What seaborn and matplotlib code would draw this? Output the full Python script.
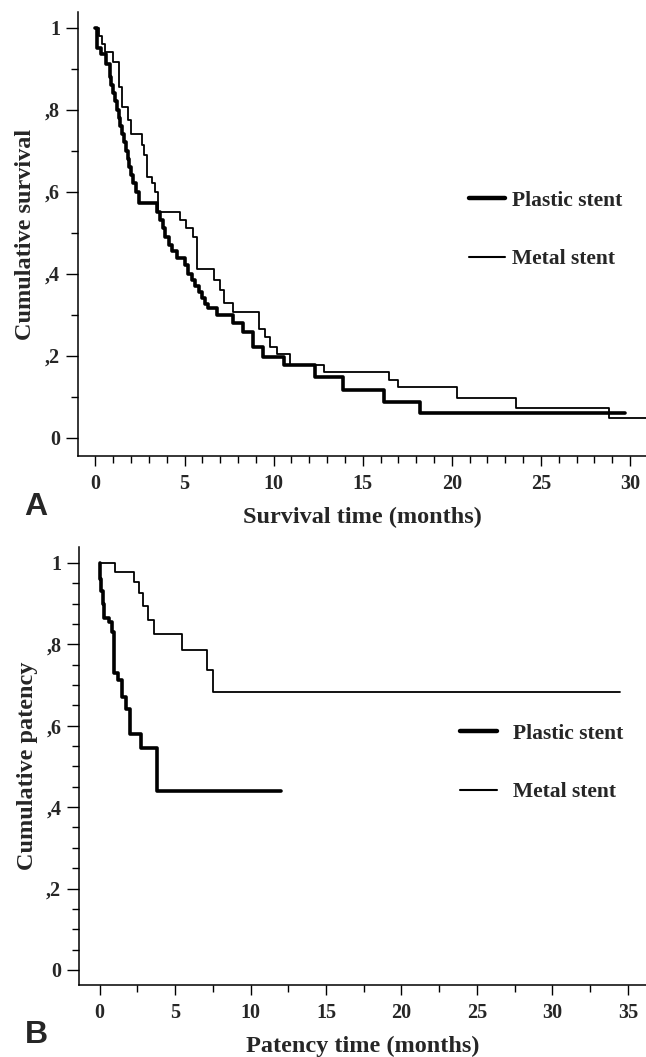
import matplotlib
matplotlib.use("Agg")
from matplotlib import pyplot as plt
from matplotlib.ticker import MultipleLocator, FuncFormatter
import numpy as np
import pandas as pd
import seaborn as sns

# Kaplan-Meier step values
# panel A: survival
surv_plastic_t = [0, 0.1, 0.3, 0.6, 0.8, 0.9, 1.0, 1.1, 1.2, 1.3, 1.4, 1.5, 1.6, 1.7, 1.8,
                  1.9, 2.0, 2.1, 2.3, 2.45, 3.45, 3.6, 3.8, 3.9, 4.1, 4.3, 4.6, 5.0, 5.2,
                  5.4, 5.6, 5.8, 6.0, 6.15, 6.3, 6.8, 7.7, 8.3, 8.85, 9.4, 10.6, 12.3,
                  13.9, 16.2, 18.2, 29.7]
surv_plastic_s = [1.0, 0.95, 0.935, 0.91, 0.88, 0.86, 0.84, 0.82, 0.80, 0.78, 0.76, 0.74,
                  0.72, 0.70, 0.68, 0.66, 0.64, 0.62, 0.60, 0.572, 0.55, 0.53, 0.51, 0.49,
                  0.47, 0.455, 0.438, 0.42, 0.40, 0.385, 0.37, 0.355, 0.34, 0.325, 0.316,
                  0.30, 0.28, 0.258, 0.22, 0.197, 0.177, 0.148, 0.116, 0.087, 0.06, 0.06]
surv_metal_t = [0, 0.2, 0.35, 0.53, 0.98, 1.34, 1.5, 1.83, 2.0, 2.6, 2.75, 2.9, 3.2, 3.35,
                3.5, 4.75, 5.1, 5.5, 5.7, 6.66, 7.0, 7.2, 7.7, 9.2, 9.5, 9.8, 10.2, 10.9,
                12.8, 16.5, 17.0, 20.3, 23.6, 28.85, 31.5]
surv_metal_s = [1.0, 0.98, 0.96, 0.94, 0.917, 0.856, 0.807, 0.775, 0.74, 0.713, 0.69, 0.636,
                0.62, 0.60, 0.55, 0.53, 0.51, 0.49, 0.41, 0.385, 0.36, 0.327, 0.306, 0.265,
                0.245, 0.22, 0.204, 0.177, 0.16, 0.141, 0.124, 0.097, 0.073, 0.048, 0.048]

# panel B: patency
pat_plastic_t = [0, 0.05, 0.1, 0.2, 0.3, 0.6, 0.8, 0.95, 1.2, 1.47, 1.75, 2.0, 2.75, 3.8, 12.0]
pat_plastic_s = [1.0, 0.96, 0.93, 0.90, 0.865, 0.855, 0.83, 0.73, 0.712, 0.67, 0.64, 0.58,
                 0.545, 0.44, 0.44]
pat_metal_t = [0, 1.02, 2.28, 2.63, 2.9, 3.23, 3.63, 5.44, 7.1, 7.54, 34.5]
pat_metal_s = [1.0, 0.977, 0.954, 0.926, 0.893, 0.86, 0.826, 0.786, 0.737, 0.684, 0.684]

labels = ["Plastic stent", "Metal stent"]

sns.set_style("ticks")
plt.rcParams["font.family"] = ["Liberation Serif", "DejaVu Serif"]
plt.rcParams["font.weight"] = "bold"
plt.rcParams["axes.labelweight"] = "bold"


def yfmt(v, pos):
    if abs(v) < 1e-9:
        return "0"
    if abs(v - 1) < 1e-9:
        return "1"
    return "," + str(int(round(v * 10)))


def km_panel(ax, curves, xmax_tick, xminor, yminor, xlim, ylim, xlabel, ylabel):
    for (t, s), lab, lw in zip(curves, labels, [2.6, 1.3]):
        df = pd.DataFrame({"t": t, "s": s})
        sns.lineplot(data=df, x="t", y="s", ax=ax, color="black", linewidth=lw,
                     drawstyle="steps-post", estimator=None, label=lab)
    ax.set_xlim(*xlim)
    ax.set_ylim(*ylim)
    ax.set_xticks(np.arange(0, xmax_tick + 1, 5))
    ax.xaxis.set_minor_locator(MultipleLocator(xminor))
    ax.set_yticks(np.arange(0, 1.01, 0.2))
    ax.yaxis.set_minor_locator(MultipleLocator(yminor))
    ax.yaxis.set_major_formatter(FuncFormatter(yfmt))
    ax.tick_params(axis="both", which="major", labelsize=14.5, width=1, color="black")
    ax.tick_params(axis="x", which="major", length=7, pad=6)
    ax.tick_params(axis="y", which="major", length=9, pad=4)
    ax.tick_params(axis="both", which="minor", length=5, width=1, color="black")
    ax.set_xlabel(xlabel, fontsize=17.5, fontweight="bold", labelpad=9)
    ax.set_ylabel(ylabel, fontsize=17.5, fontweight="bold", labelpad=6)
    for sp in ["top", "right"]:
        ax.spines[sp].set_visible(False)
    for sp in ["left", "bottom"]:
        ax.spines[sp].set_linewidth(1.1)
        ax.spines[sp].set_color("black")


W, H = 646, 1057
fig = plt.figure(figsize=(W / 100, H / 100), dpi=100)

ax1 = fig.add_axes([78 / W, 1 - 456 / H, (W - 78) / W, (456 - 12) / H])
km_panel(ax1, [(surv_plastic_t, surv_plastic_s), (surv_metal_t, surv_metal_s)],
         30, 1, 0.1, (-0.98, 30.9), (-0.045, 1.038),
         "Survival time (months)", "Cumulative survival")
ax1.legend(loc="center left", bbox_to_anchor=(469 / W, 1 - 230 / H),
           bbox_transform=fig.transFigure, frameon=False, fontsize=15.5,
           handlelength=1.65, handletextpad=0.35, labelspacing=1.8, borderpad=0,
           borderaxespad=0)

ax2 = fig.add_axes([79.4 / W, 1 - 985 / H, (W - 79.4) / W, (985 - 547) / H])
km_panel(ax2, [(pat_plastic_t, pat_plastic_s), (pat_metal_t, pat_metal_s)],
         35, 2.5, 0.05, (-1.34, 36.2), (-0.037, 1.039),
         "Patency time (months)", "Cumulative patency")
ax2.legend(loc="center left", bbox_to_anchor=(460 / W, 1 - 763 / H),
           bbox_transform=fig.transFigure, frameon=False, fontsize=15.5,
           handlelength=1.7, handletextpad=0.75, labelspacing=1.8, borderpad=0,
           borderaxespad=0)

for leg in [ax1.get_legend(), ax2.get_legend()]:
    lines = leg.get_lines()
    lines[0].set_linewidth(3.2)
    lines[1].set_linewidth(1.5)

fig.text(36 / W, 1 - 507 / H, "A", fontsize=23, fontweight="bold",
         family=["Liberation Sans", "DejaVu Sans"], ha="center", va="center")
fig.text(36 / W, 1 - 1035 / H, "B", fontsize=23, fontweight="bold",
         family=["Liberation Sans", "DejaVu Sans"], ha="center", va="center")

fig.savefig("out.png", dpi=100)
